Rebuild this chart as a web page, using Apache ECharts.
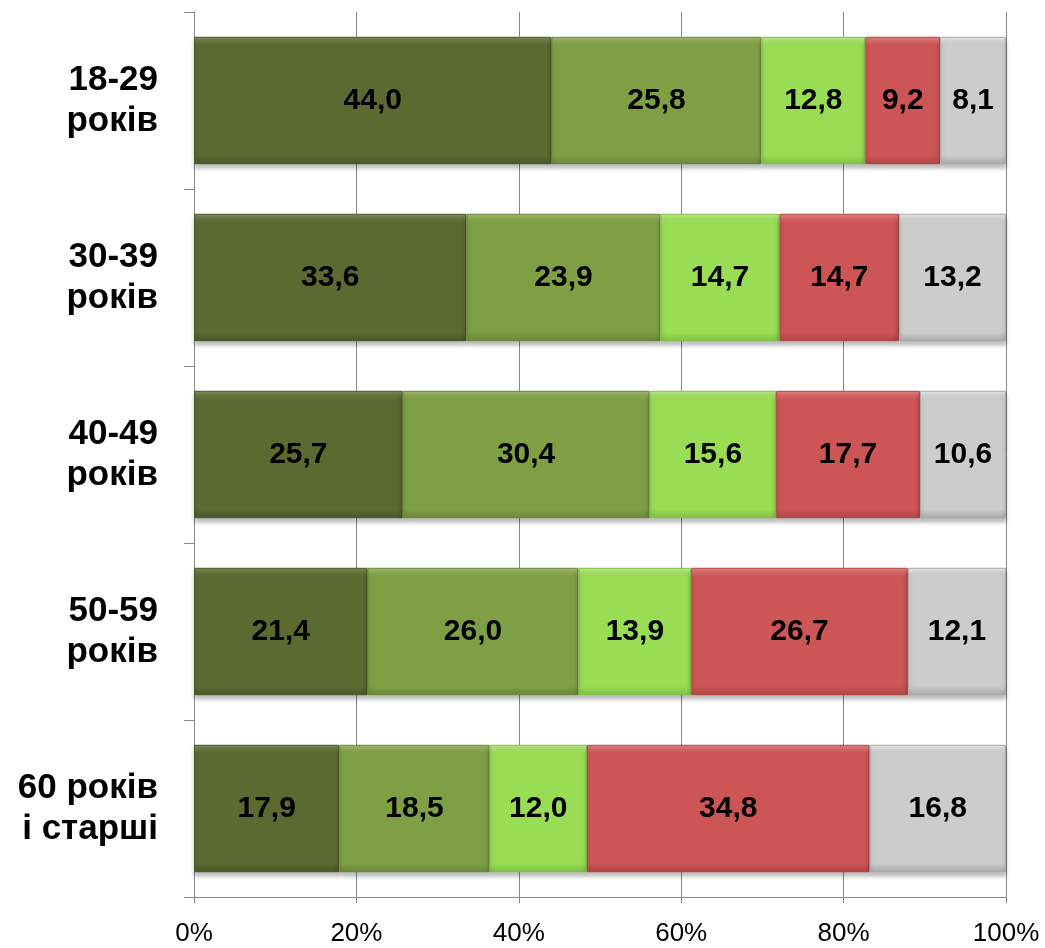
<!DOCTYPE html>
<html>
<head>
<meta charset="utf-8">
<script src="https://cdn.jsdelivr.net/npm/echarts@6/dist/echarts.min.js"></script>
<style>html,body{margin:0;padding:0;background:#fff}#c{width:1045px;height:948px}</style>
</head>
<body>
<div id="c"></div>
<script>
const categories = ['18-29\nроків', '30-39\nроків', '40-49\nроків', '50-59\nроків', '60 років\nі старші'];
const s1 = [44.0, 33.6, 25.7, 21.4, 17.9];
const s2 = [25.8, 23.9, 30.4, 26.0, 18.5];
const s3 = [12.8, 14.7, 15.6, 13.9, 12.0];
const s4 = [9.2, 14.7, 17.7, 26.7, 34.8];
const s5 = [8.1, 13.2, 10.6, 12.1, 16.8];
const xTicks = [0, 20, 40, 60, 80, 100];

const allSeries = [s1, s2, s3, s4, s5];
const colors = ['#5a6a30', '#7f9f45', '#99dd55', '#cd5555', '#cccccc'];
const highlights = ['#7d8c55', '#a0bb6a', '#b9ec82', '#e88080', '#e8e8e8'];
const borders = ['#48562a', '#6a8638', '#80bf45', '#b04545', '#a8a8a8'];
const sums = categories.map((_, i) => allSeries.reduce((a, s) => a + s[i], 0));

const series = allSeries.map((s, k) => ({
  type: 'bar',
  stack: 'total',
  barCategoryGap: '28%',
  data: s.map((v, i) => ({ value: v / sums[i] * 100, raw: v })),
  itemStyle: {
    color: {
      type: 'linear', x: 0, y: 0, x2: 0, y2: 1,
      colorStops: [
        { offset: 0, color: highlights[k] },
        { offset: 0.07, color: colors[k] },
        { offset: 0.93, color: colors[k] },
        { offset: 1, color: borders[k] }
      ]
    },
    borderColor: borders[k],
    borderWidth: 1,
    shadowColor: 'rgba(0,0,0,0.25)',
    shadowBlur: 4,
    shadowOffsetY: 4
  },
  label: {
    show: true,
    position: 'inside',
    fontFamily: 'Liberation Sans, Arial, sans-serif',
    fontWeight: 'bold',
    fontSize: 30,
    color: '#000',
    formatter: p => p.data.raw.toFixed(1).replace('.', ',')
  }
}));

const chart = echarts.init(document.getElementById('c'));
chart.setOption({
  animation: false,
  grid: { left: 194, right: 39, top: 12, bottom: 51, containLabel: false },
  xAxis: {
    type: 'value', min: xTicks[0], max: xTicks[xTicks.length - 1], interval: 20,
    axisLine: { show: true, lineStyle: { color: '#888', width: 1 } },
    axisTick: { show: true, length: 6, lineStyle: { color: '#888' } },
    splitLine: { show: true, lineStyle: { color: '#888', width: 1 } },
    axisLabel: {
      formatter: '{value}%', fontSize: 26, color: '#000', margin: 24,
      fontFamily: 'Liberation Sans, Arial, sans-serif'
    }
  },
  yAxis: {
    type: 'category', data: categories, inverse: true,
    axisLine: { show: true, lineStyle: { color: '#888', width: 1 } },
    axisTick: { show: true, length: 10, lineStyle: { color: '#888' } },
    axisLabel: {
      fontSize: 35, fontWeight: 'bold', color: '#000', lineHeight: 41, margin: 36,
      align: 'right',
      fontFamily: 'Liberation Sans, Arial, sans-serif'
    }
  },
  series: series
});
</script>
</body>
</html>
